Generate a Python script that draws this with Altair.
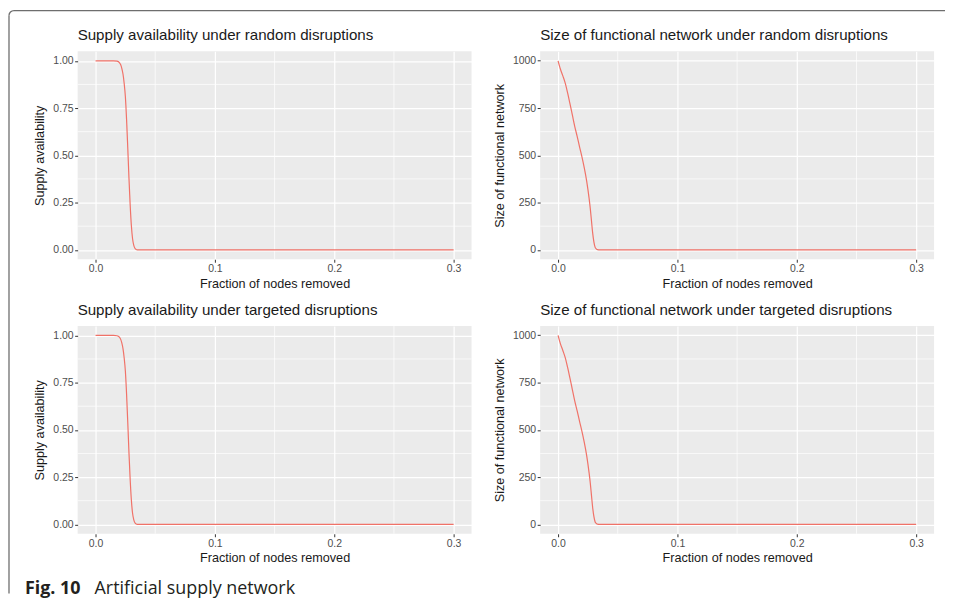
import altair as alt
import pandas as pd

# ---- data ----
supply_x = [0, 0.005, 0.01, 0.015, 0.018, 0.020, 0.021, 0.022, 0.023, 0.024, 0.025,
            0.026, 0.027, 0.028, 0.029, 0.030, 0.031, 0.032, 0.033, 0.034, 0.035,
            0.04, 0.05, 0.1, 0.2, 0.3]
supply_random = [1, 1, 1, 1, 0.998, 0.99, 0.98, 0.96, 0.93, 0.88, 0.81,
                 0.69, 0.54, 0.38, 0.24, 0.13, 0.06, 0.025, 0.008, 0.002, 0,
                 0, 0, 0, 0, 0]
supply_targeted = [1, 1, 1, 1, 0.998, 0.99, 0.98, 0.96, 0.93, 0.88, 0.81,
                   0.69, 0.54, 0.38, 0.24, 0.13, 0.06, 0.025, 0.008, 0.002, 0,
                   0, 0, 0, 0, 0]

size_x = [0, 0.002, 0.004, 0.006, 0.008, 0.010, 0.012, 0.014, 0.016, 0.018, 0.020,
          0.022, 0.024, 0.026, 0.027, 0.028, 0.029, 0.030, 0.031, 0.032, 0.033,
          0.035, 0.05, 0.1, 0.2, 0.3]
size_random = [1000, 955, 920, 882, 830, 772, 712, 652, 600, 545, 492,
               432, 362, 272, 218, 152, 88, 42, 14, 5, 1,
               0, 0, 0, 0, 0]
size_targeted = [1000, 955, 920, 882, 830, 772, 712, 652, 600, 545, 492,
                 432, 362, 272, 218, 152, 88, 42, 14, 5, 1,
                 0, 0, 0, 0, 0]

x_ticks = [0, 0.1, 0.2, 0.3]
x_minor = [0.05, 0.15, 0.25]
supply_ticks = [0, 0.25, 0.5, 0.75, 1.0]
supply_minor = [0.125, 0.375, 0.625, 0.875]
size_ticks = [0, 250, 500, 750, 1000]
size_minor = [125, 375, 625, 875]

titles = [
    "Supply availability under random disruptions",
    "Size of functional network under random disruptions",
    "Supply availability under targeted disruptions",
    "Size of functional network under targeted disruptions",
]
x_title = "Fraction of nodes removed"
caption_bold = "Fig. 10"
caption_text = "Artificial supply network"

LINE = "#F07268"
W, H = 396, 209
FONT = "Liberation Sans"

one = alt.Data(values=[{"a": 1}])


def panel(xs, ys, title, ytitle, yticks, yminor, yfmt, ydom, extra=()):
    df = pd.DataFrame({"x": xs, "y": ys})
    xs_scale = alt.Scale(domain=[-0.015, 0.315], nice=False, zero=False)
    ys_scale = alt.Scale(domain=ydom, nice=False, zero=False)
    xaxis = alt.Axis(values=x_ticks, format=".1f", title=x_title)
    yaxis = alt.Axis(values=yticks, format=yfmt, title=ytitle)
    vminor = alt.Chart(pd.DataFrame({"x": x_minor})).mark_rule(
        color="white", strokeWidth=0.7
    ).encode(x=alt.X("x:Q", scale=xs_scale, axis=xaxis))
    hminor = alt.Chart(pd.DataFrame({"y": yminor})).mark_rule(
        color="white", strokeWidth=0.7
    ).encode(y=alt.Y("y:Q", scale=ys_scale, axis=yaxis))
    line = alt.Chart(df).mark_line(
        color=LINE, strokeWidth=1.2, interpolate="monotone"
    ).encode(
        x=alt.X("x:Q", scale=xs_scale, axis=xaxis),
        y=alt.Y("y:Q", scale=ys_scale, axis=yaxis),
    )
    ttl = alt.Chart(one).mark_text(
        text=title, font=FONT, fontSize=15.2, align="left", baseline="alphabetic",
        color="#1a1a1a"
    ).encode(x=alt.value(0), y=alt.value(-11))
    return alt.layer(vminor, hminor, line, ttl, *extra).properties(
        width=W, height=H
    )


FRAME = "#6e6e6e"
frame = [
    alt.Chart(one).mark_rule(color=FRAME, strokeWidth=1.3).encode(
        x=alt.value(-64), x2=alt.value(872), y=alt.value(-41)),
    alt.Chart(one).mark_rule(color=FRAME, strokeWidth=1.3).encode(
        x=alt.value(-69), y=alt.value(-36), y2=alt.value(545)),
    alt.Chart(one).mark_arc(color=FRAME, innerRadius=4.35, outerRadius=5.65,
                            theta=4.712, theta2=6.2832).encode(
        x=alt.value(-64), y=alt.value(-36)),
]
caption = [
    alt.Chart(one).mark_text(text=caption_bold, font="Open Sans", fontSize=18,
                             fontWeight="bold", align="left", baseline="alphabetic",
                             color="#231f20").encode(
        x=alt.value(-53), y=alt.value(270)),
    alt.Chart(one).mark_text(text=caption_text, font="Open Sans", fontSize=18,
                             align="left", baseline="alphabetic",
                             color="#231f20").encode(
        x=alt.value(17), y=alt.value(270)),
]

tl = panel(supply_x, supply_random, titles[0], "Supply availability",
           supply_ticks, supply_minor, ".2f", [-0.05, 1.05], extra=frame)
tr = panel(size_x, size_random, titles[1], "Size of functional network",
           size_ticks, size_minor, "d", [-50, 1050])
bl = panel(supply_x, supply_targeted, titles[2], "Supply availability",
           supply_ticks, supply_minor, ".2f", [-0.05, 1.05], extra=caption)
br = panel(size_x, size_targeted, titles[3], "Size of functional network",
           size_ticks, size_minor, "d", [-50, 1050])

chart = alt.concat(
    tl, tr, bl, br, columns=2, spacing={"row": 67, "column": 69}, bounds="flush"
).properties(
    padding=0, background="white"
).configure_view(
    fill="#EBEBEB", stroke=None
).configure_axis(
    domain=False, tickColor="#333333", tickSize=3, tickWidth=1,
    labelColor="#4d4d4d", labelFont=FONT, labelFontSize=10.5, labelPadding=1.5,
    titleFont=FONT, titleFontSize=12.7, titleFontWeight="normal", titleColor="#1a1a1a",
    gridColor="white", gridWidth=1.2,
).configure_axisY(
    titlePadding=6
).configure_axisX(
    titlePadding=3
)

chart.save("out.html", embed_options={"renderer": "svg", "actions": False})
